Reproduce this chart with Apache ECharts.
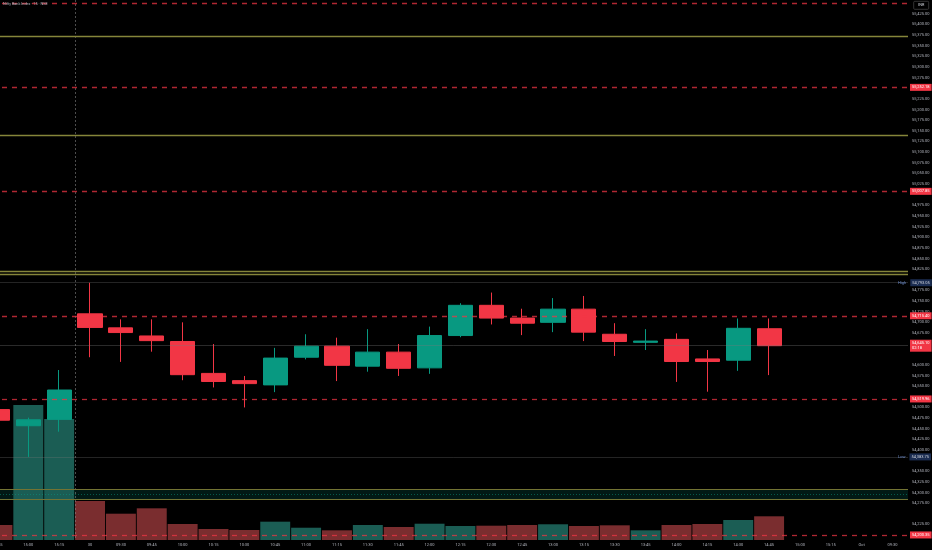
<!DOCTYPE html>
<html><head><meta charset="utf-8">
<script src="https://cdn.jsdelivr.net/npm/echarts@6/dist/echarts.min.js"></script>
<style>html,body{margin:0;padding:0;background:#000}#c{width:932px;height:550px}</style>
</head><body><div id="c"></div>
<script>
// ---- data ----
const times = ["14:45","15:00","15:15","30","09:30","09:45","10:00","10:15","10:30","10:45","11:00","11:15","11:30","11:45","12:00","12:15","12:30","12:45","13:00","13:15","13:30","13:45","14:00","14:15","14:30","14:45","15:00","15:15","Oct","09:30"];
const opens  = [54495,54457,54472,54720,54687,54668,54655,54580,54563,54553,54618,54644,54597,54630,54593,54669,54740,54710,54700,54731,54672,54653,54660,54614,54611,54685,null,null,null,null];
const closes = [54470,54471,54541,54688,54676,54657,54577,54561,54556,54616,54644,54599,54630,54592,54669,54740,54710,54698,54731,54677,54655,54656,54608,54608,54686,54645.10,null,null,null,null];
const lows   = [54465,54383.75,54443,54618,54607,54631,54564,54547,54500,54536,54613,54562,54584,54574,54579,54665,54695,54670,54677,54656,54621,54635,54560,54537,54586,54576,null,null,null,null];
const highs  = [54500,54476,54588,54793.05,54707,54707,54700,54649,54574,54640,54672,54664,54684,54649,54690,54745,54770,54732,54757,54762,54698,54684,54674,54635,54709,54709,null,null,null,null];
const volumes = [3180,28590,25630,8260,5570,6710,3390,2330,2120,3880,2600,2050,3180,2750,3450,2970,3030,3180,3330,2970,3110,2050,3180,3390,4240,5020,null,null,null,null];
const priceTicks = [55425,55400,55375,55350,55325,55300,55275,55225,55200,55175,55150,55125,55100,55075,55050,55025,54975,54950,54925,54900,54875,54850,54825,54775,54750,54725,54700,54675,54600,54575,54550,54500,54475,54450,54425,54400,54350,54325,54300,54275,54225];
const redLevels = [55450, 55252.18, 55007.85, 54715.40, 54519.96, 54200.35];
const redLabelled = [false, true, true, true, true, true];
const oliveLevels = [55373, 55139, 54821, 54814];
const zoneLevels = [54285, 54307];
const lastPrice = 54645.10;
const countdown = "02:18";
const highPrice = 54793.05;
const lowPrice = 54383.75;
const lastVolume = 5020;
const sessionStartIndex = 3;

const UP = '#089981', DOWN = '#f23645';
const fmt = v => v.toLocaleString('en-US',{minimumFractionDigits:2, maximumFractionDigits:2});
const FONT = 'Roboto';

const candleData = times.map((t,i) => opens[i]==null ? '-' : [opens[i], closes[i], lows[i], highs[i]]);
const volData = times.map((t,i) => volumes[i]==null ? '-' : {
  value: volumes[i],
  itemStyle: {color: closes[i] >= opens[i] ? '#1b5d54' : '#7a2d2f'}
});

const markLines = [];
redLevels.forEach((v,i) => markLines.push({
  yAxis: v,
  lineStyle: {type: [5,5], color: 'rgba(242,54,69,0.72)', width: 1.3},
  label: redLabelled[i] ? {show: true, position: 'end', distance: 2, formatter: fmt(v),
    backgroundColor: DOWN, color: '#fff', fontSize: 4, fontFamily: FONT, padding: [1.5,2]} : {show: false}
}));
oliveLevels.forEach(v => markLines.push({yAxis: v, lineStyle: {type: 'solid', color: '#85853a', width: 1.3}, label: {show: false}}));
zoneLevels.forEach(v => markLines.push({yAxis: v, lineStyle: {type: 'solid', color: '#737333', width: 1.2}, label: {show: false}}));
markLines.push({yAxis: (zoneLevels[0]+zoneLevels[1])/2, lineStyle: {type: [1,2], color: 'rgba(8,153,129,0.5)', width: 1}, label: {show: false}});
markLines.push({yAxis: lastPrice, lineStyle: {type: 'solid', color: 'rgba(120,120,120,0.35)', width: 1},
  label: {show: true, position: 'end', distance: 2, formatter: '{a|' + fmt(lastPrice) + '}\n{b|' + countdown + '}',
    backgroundColor: DOWN, padding: [1,2], rich: {a: {color: '#fff', fontSize: 4, fontFamily: FONT, lineHeight: 5}, b: {color: '#fff', fontSize: 4, fontFamily: FONT, lineHeight: 5}}}});
[[highPrice,'High'],[lowPrice,'Low']].forEach(([v,name]) => markLines.push({yAxis: v,
  lineStyle: {type: 'solid', color: 'rgba(120,120,120,0.3)', width: 1},
  label: {show: true, position: 'end', distance: 0, offset: [-10, 0],
    formatter: '{h|' + name + '}{v|' + fmt(v) + '}',
    rich: {h: {color: '#6f8fd0', fontSize: 4, fontFamily: FONT, padding: [0,4,0,0]},
           v: {color: '#d1d4dc', fontSize: 4, fontFamily: FONT, backgroundColor: '#1b2d52', padding: [1.5,2]}}}}));

const chart = echarts.init(document.getElementById('c'), null, {renderer: 'canvas'});
chart.setOption({
  backgroundColor: '#000',
  animation: false,
  textStyle: {fontFamily: FONT},
  grid: [
    {left: -18, right: 24, top: 0, bottom: 10, outerBoundsMode: 'none', containLabel: false},
    {left: -18, right: 24, top: 400, bottom: 10, outerBoundsMode: 'none', containLabel: false}
  ],
  xAxis: [
    {type: 'category', data: times, gridIndex: 0, boundaryGap: true,
     axisLine: {show: false}, axisTick: {show: false}, splitLine: {show: false},
     axisLabel: {interval: 0, fontSize: 4, color: '#b2b5be', margin: 3, fontFamily: FONT}},
    {type: 'category', data: times, gridIndex: 1, show: false, boundaryGap: true}
  ],
  yAxis: [
    {type: 'value', gridIndex: 0, position: 'right', min: 54188.5, max: 55457.5, scale: true,
     axisLine: {show: false}, axisTick: {show: false}, splitLine: {show: false},
     axisLabel: {customValues: priceTicks, formatter: v => fmt(v), fontSize: 4, color: '#b2b5be', margin: 4, fontFamily: FONT}},
    {type: 'value', gridIndex: 1, min: 0, max: 29650, show: false, splitLine: {show: false}}
  ],
  graphic: [
    {type: 'text', left: 3, top: 2, style: {text: 'Nifty Bank Index · 15 · NSE', fontSize: 3.8, fill: '#b2b5be', fontFamily: FONT}, z: 100},
    {type: 'group', right: 3, top: 1, z: 100, children: [
      {type: 'rect', shape: {x: 0, y: 0, width: 15, height: 8, r: 1}, style: {fill: '#000', stroke: '#555', lineWidth: 0.6}},
      {type: 'text', x: 7.5, y: 4, style: {text: 'INR', fontSize: 3.8, fill: '#d1d4dc', align: 'center', verticalAlign: 'middle', fontFamily: FONT}}
    ]}
  ],
  series: [
    {type: 'bar', name: 'Volume', xAxisIndex: 1, yAxisIndex: 1, data: volData, barCategoryGap: '3%', z: 1,
     markLine: {silent: true, symbol: ['none','none'], animation: false,
       data: [{yAxis: lastVolume, lineStyle: {opacity: 0}, label: {show: true, position: 'end', distance: 2, formatter: fmt(lastVolume).replace('.00',''),
         backgroundColor: DOWN, color: '#fff', fontSize: 4, fontFamily: FONT, padding: [1.5,2]}}]}},
    {type: 'custom', name: 'session', xAxisIndex: 0, yAxisIndex: 0, z: 2, silent: true,
     data: [[sessionStartIndex, 54800]],
     renderItem: (params, api) => {
       const i = api.value(0);
       const a = api.coord([i-1, api.value(1)])[0], b = api.coord([i, api.value(1)])[0];
       const x = Math.round((a+b)/2) + 0.5;
       const cs = params.coordSys;
       return {type: 'line', shape: {x1: x, y1: cs.y, x2: x, y2: cs.y + cs.height},
               style: {stroke: 'rgba(140,140,140,0.55)', lineWidth: 1, lineDash: [2,2]}};
     }},
    {type: 'candlestick', name: 'NIFTY BANK', xAxisIndex: 0, yAxisIndex: 0, data: candleData, barWidth: '80%', z: 3,
     itemStyle: {color: UP, color0: DOWN, borderColor: UP, borderColor0: DOWN, borderWidth: 1},
     markArea: {silent: true, itemStyle: {color: 'rgba(8,153,129,0.16)'}, data: [[{yAxis: zoneLevels[0]}, {yAxis: zoneLevels[1]}]]},
     markLine: {silent: true, symbol: ['none','none'], animation: false, data: markLines}}
  ]
});
</script></body></html>
